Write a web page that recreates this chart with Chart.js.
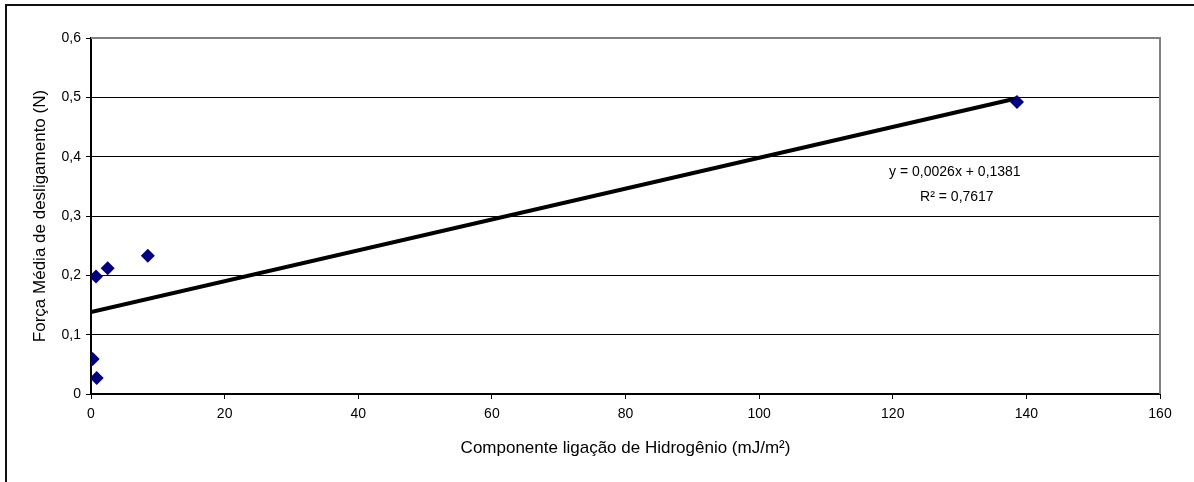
<!DOCTYPE html>
<html>
<head>
<meta charset="utf-8">
<script src="https://cdn.jsdelivr.net/npm/chart.js@4/dist/chart.umd.min.js"></script>
<style>
  html, body { margin: 0; padding: 0; background: #fff; }
  #wrap { position: relative; width: 1194px; height: 482px; overflow: hidden; }
  #frame { position: absolute; left: 5px; top: 4px; width: 1300px; height: 600px;
           border-left: 2px solid #111; border-top: 2px solid #111; pointer-events: none; }
  canvas { position: absolute; left: 0; top: 0; }
</style>
</head>
<body>
<div id="wrap">
  <canvas id="chart" width="1194" height="482"></canvas>
  <div id="frame"></div>
</div>
<script>
// Data
const hydrogenComponent = [0.25, 0.85, 0.75, 2.5, 8.5, 138.6];
const detachForce = [0.059, 0.027, 0.198, 0.212, 0.233, 0.492];

// Linear trendline as printed on the chart
const trendSlope = 0.0026;
const trendIntercept = 0.1381;
const trendLabel = ['y = 0,0026x + 0,1381', 'R² = 0,7617'];

const xTicks = [0, 20, 40, 60, 80, 100, 120, 140, 160];
const yTicks = [0, 0.1, 0.2, 0.3, 0.4, 0.5, 0.6];

const points = hydrogenComponent.map((x, i) => ({ x: x, y: detachForce[i] }));
const xMinData = 0;
const xMaxData = Math.max(...hydrogenComponent);
const trendPoints = [xMinData, xMaxData].map(x => ({ x: x, y: trendSlope * x + trendIntercept }));

const FONT = 'Liberation Sans, Arial, sans-serif';

// grey frame on top/right of plot area + trendline equation
const plotExtras = {
    id: 'plotExtras',
    afterDatasetsDraw(chart) {
        const { ctx, chartArea, scales } = chart;
        ctx.save();
        ctx.strokeStyle = '#808080';
        ctx.lineWidth = 2;
        ctx.beginPath();
        ctx.moveTo(chartArea.left, chartArea.top);
        ctx.lineTo(chartArea.right, chartArea.top);
        ctx.lineTo(chartArea.right, chartArea.bottom);
        ctx.stroke();

        ctx.fillStyle = '#000';
        ctx.font = '14px ' + FONT;
        ctx.textAlign = 'center';
        ctx.textBaseline = 'middle';
        const lx = scales.x.getPixelForValue(129.3);
        ctx.fillText(trendLabel[0], lx, scales.y.getPixelForValue(0.374));
        ctx.fillText(trendLabel[1], lx + 2, scales.y.getPixelForValue(0.331));
        ctx.restore();
    }
};

const comma = v => String(Math.round(v * 10) / 10).replace('.', ',');

const ctx = document.getElementById('chart').getContext('2d');
new Chart(ctx, {
    type: 'scatter',
    data: {
        datasets: [{
            label: 'Trend',
            type: 'line',
            data: trendPoints,
            borderColor: '#000',
            borderWidth: 4,
            pointRadius: 0,
            fill: false,
            order: 2
        }, {
            label: 'Força',
            data: points,
            pointStyle: 'rectRot',
            pointRadius: 7,
            backgroundColor: '#000080',
            borderColor: '#000080',
            borderWidth: 0,
            order: 1
        }]
    },
    options: {
        responsive: false,
        animation: false,
        devicePixelRatio: 1,
        layout: { padding: { left: 0, right: 34, top: 38, bottom: 0 } },
        plugins: {
            legend: { display: false },
            tooltip: { enabled: false }
        },
        scales: {
            x: {
                type: 'linear',
                min: 0,
                max: 160,
                afterBuildTicks: axis => { axis.ticks = xTicks.map(v => ({ value: v })); },
                afterFit: axis => { axis.height = 88; },
                grid: { drawOnChartArea: false, drawTicks: true, tickLength: 5, color: '#000', tickColor: '#000' },
                border: { color: '#000', width: 2 },
                ticks: { color: '#000', font: { family: FONT, size: 14 }, padding: 7, maxRotation: 0,
                         callback: v => String(v) },
                title: { display: true, text: 'Componente ligação de Hidrogênio (mJ/m²)', color: '#000',
                         font: { family: FONT, size: 17 }, padding: { top: 0, bottom: 23 } }
            },
            y: {
                type: 'linear',
                min: 0,
                max: 0.6,
                afterBuildTicks: axis => { axis.ticks = yTicks.map(v => ({ value: v })); },
                afterFit: axis => { axis.width = 91; },
                grid: { drawOnChartArea: true, drawTicks: true, tickLength: 5, color: '#000', tickColor: '#000', lineWidth: 1 },
                border: { color: '#000', width: 2 },
                ticks: { color: '#000', font: { family: FONT, size: 14 }, padding: 5, callback: v => comma(v) },
                title: { display: true, text: 'Força Média de desligamento (N)', color: '#000',
                         font: { family: FONT, size: 17 }, padding: { top: 30, bottom: 0 } }
            }
        }
    },
    plugins: [plotExtras]
});
</script>
</body>
</html>
